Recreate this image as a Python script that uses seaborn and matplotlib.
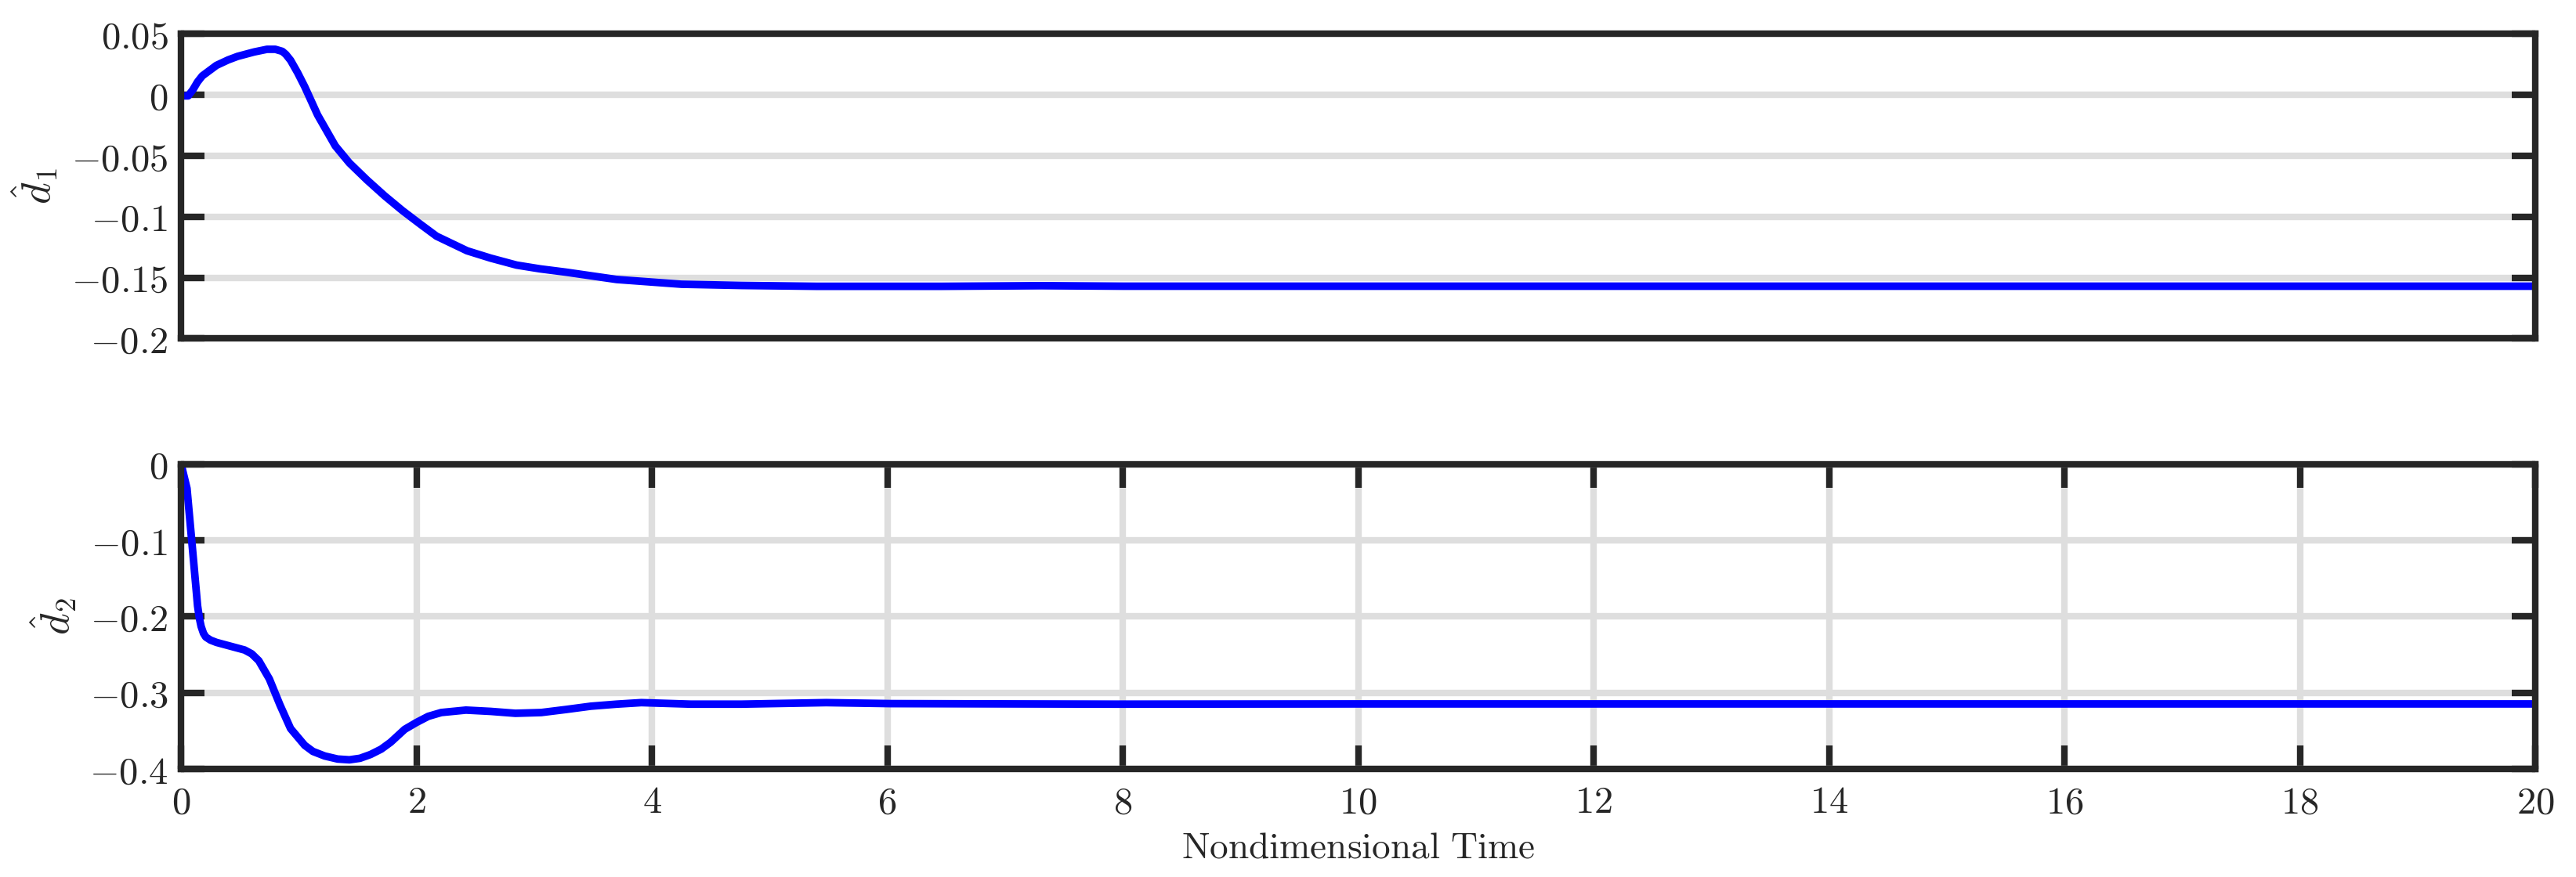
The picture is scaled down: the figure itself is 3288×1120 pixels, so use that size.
import numpy as np
import pandas as pd
import matplotlib
matplotlib.use("Agg")
import matplotlib.pyplot as plt
from matplotlib.ticker import FixedLocator, FuncFormatter
import seaborn as sns

# -----------------------------
# Data
# -----------------------------
t_d1 = [0.0, 0.06, 0.10, 0.14, 0.18, 0.24, 0.30, 0.40, 0.48, 0.62, 0.73,
        0.80, 0.86, 0.89, 0.93, 0.99, 1.05, 1.16, 1.31, 1.43, 1.58, 1.73,
        1.88, 2.03, 2.17, 2.43, 2.63, 2.85, 3.05, 3.27, 3.70, 4.25, 4.76,
        5.40, 6.46, 7.31, 8.0, 10.0, 12.0, 14.0, 16.0, 18.0, 20.0]
d1 = [-0.001, -0.001, 0.004, 0.0105, 0.0154, 0.0197, 0.024, 0.0285, 0.0314,
      0.035, 0.0372, 0.0372, 0.0355, 0.0330, 0.0282, 0.0180, 0.0066, -0.0167,
      -0.042, -0.056, -0.070, -0.083, -0.095, -0.106, -0.116, -0.128, -0.134,
      -0.1397, -0.1428, -0.1455, -0.1515, -0.1554, -0.1564, -0.1571, -0.1571,
      -0.1566, -0.157, -0.157, -0.157, -0.157, -0.157, -0.157, -0.157]

t_d2 = [0.0, 0.05, 0.08, 0.11, 0.14, 0.155, 0.17, 0.19, 0.21, 0.25, 0.30,
        0.42, 0.54, 0.60, 0.66, 0.75, 0.84, 0.93, 1.05, 1.12, 1.22, 1.33,
        1.43, 1.52, 1.61, 1.70, 1.78, 1.90, 2.0, 2.10, 2.21, 2.42, 2.63,
        2.84, 3.06, 3.27, 3.48, 3.70, 3.91, 4.33, 4.76, 5.48, 6.03, 7.94,
        10.0, 12.0, 14.0, 16.0, 18.0, 20.0]
d2 = [0.0, -0.032, -0.083, -0.134, -0.186, -0.202, -0.213, -0.222, -0.227,
      -0.231, -0.234, -0.239, -0.244, -0.249, -0.258, -0.282, -0.316, -0.347,
      -0.369, -0.377, -0.383, -0.387, -0.388, -0.386, -0.381, -0.374, -0.365,
      -0.348, -0.339, -0.331, -0.326, -0.3228, -0.3245, -0.327, -0.326,
      -0.322, -0.3177, -0.315, -0.313, -0.315, -0.315, -0.313, -0.3143,
      -0.315, -0.3147, -0.3147, -0.3147, -0.3147, -0.3147, -0.3147]

x_ticks = [0, 2, 4, 6, 8, 10, 12, 14, 16, 18, 20]
y1_ticks = [-0.2, -0.15, -0.1, -0.05, 0, 0.05]
y2_ticks = [-0.4, -0.3, -0.2, -0.1, 0]

df1 = pd.DataFrame({"t": t_d1, "d": d1})
df2 = pd.DataFrame({"t": t_d2, "d": d2})

# -----------------------------
# Style
# -----------------------------
sns.set_theme(style="whitegrid")
plt.rcParams["mathtext.fontset"] = "cm"
plt.rcParams["font.family"] = ["DejaVu Serif"]

dark = "#262626"
grid_c = "#DEDEDE"
lw_axis = 3.0

fig, (ax1, ax2) = plt.subplots(2, 1, figsize=(16.44, 5.6), dpi=200)
fig.patch.set_facecolor("white")
fig.subplots_adjust(left=0.0703, right=0.9842, top=0.9616, bottom=0.1232,
                    hspace=0.411)

sns.lineplot(data=df1, x="t", y="d", ax=ax1, color="#0000FF",
             linewidth=3.5, estimator=None, sort=False)
sns.lineplot(data=df2, x="t", y="d", ax=ax2, color="#0000FF",
             linewidth=3.5, estimator=None, sort=False)

fmt = FuncFormatter(lambda v, p: f"${v:g}$")

for ax in (ax1, ax2):
    ax.set_facecolor("white")
    ax.set_xlim(0, 20)
    for s in ax.spines.values():
        s.set_visible(True)
        s.set_color(dark)
        s.set_linewidth(lw_axis)
    ax.yaxis.set_major_formatter(fmt)
    ax.xaxis.set_major_formatter(fmt)
    ax.tick_params(axis="both", direction="in", length=10.8, width=lw_axis,
                   color=dark, labelcolor=dark, labelsize=17.5)
    ax.tick_params(axis="y", left=True, right=True, pad=6)
    ax.grid(True, color=grid_c, linewidth=3.0)
    ax.set_axisbelow(True)

# top panel: no x ticks, only horizontal grid
ax1.set_ylim(-0.2, 0.05)
ax1.yaxis.set_major_locator(FixedLocator(y1_ticks))
ax1.set_xticks([])
ax1.grid(False, axis="x")
ax1.set_xlabel("")
ax1.set_ylabel(r"$\hat{d}_1$", fontsize=19, color=dark)
ax1.yaxis.set_label_coords(-0.0516, 0.5)

# bottom panel
ax2.set_ylim(-0.4, 0)
ax2.yaxis.set_major_locator(FixedLocator(y2_ticks))
ax2.xaxis.set_major_locator(FixedLocator(x_ticks))
ax2.tick_params(axis="x", bottom=True, top=True, pad=7)
ax2.set_ylabel(r"$\hat{d}_2$", fontsize=19, color=dark)
ax2.yaxis.set_label_coords(-0.0436, 0.5)
ax2.set_xlabel(r"$\mathrm{Nondimensional\ Time}$", fontsize=17, color=dark)
ax2.xaxis.set_label_coords(0.5, -0.2)

fig.savefig("out.png", dpi=200, facecolor="white")
plt.close(fig)
